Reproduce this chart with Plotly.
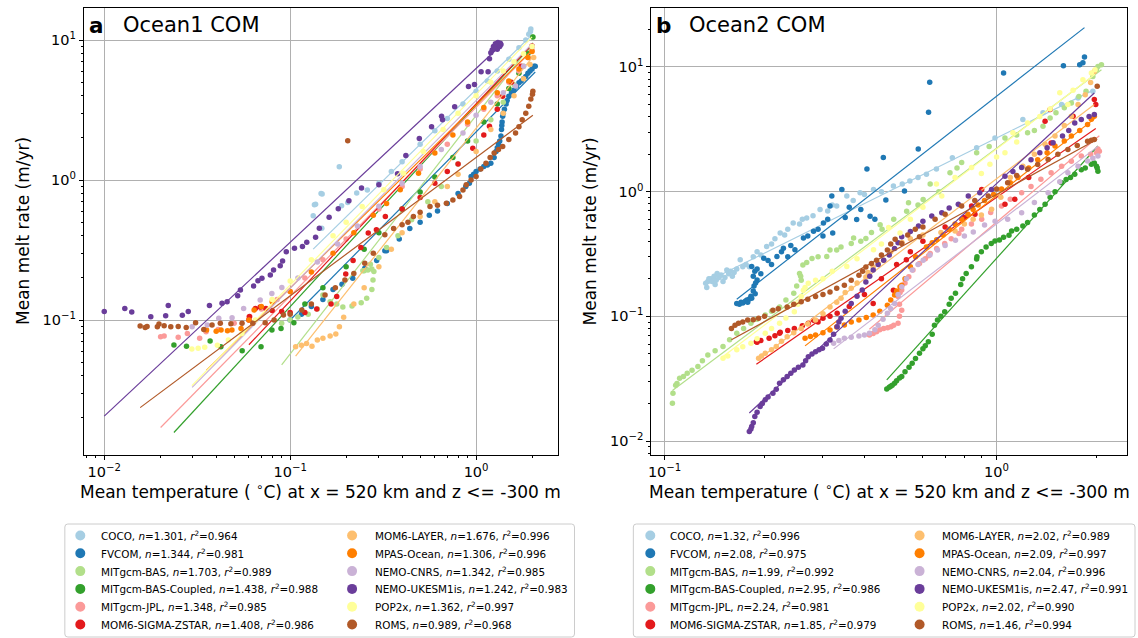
import numpy as np
import plotly.graph_objects as go

W, H = 1138, 638
FONT = "DejaVu Sans"

models = ["COCO", "FVCOM", "MITgcm-BAS", "MITgcm-BAS-Coupled", "MITgcm-JPL",
          "MOM6-SIGMA-ZSTAR", "MOM6-LAYER", "MPAS-Ocean", "NEMO-CNRS",
          "NEMO-UKESM1is", "POP2x", "ROMS"]
colors = ["#a6cee3", "#1f78b4", "#b2df8a", "#33a02c", "#fb9a99", "#e31a1c",
          "#fdbf6f", "#ff7f00", "#cab2d6", "#6a3d9a", "#ffff99", "#b15928"]

# Power-law fits  melt = coef * T**n  (coef = melt rate at T = 1 degC)
n_ocean1 = [1.301, 1.344, 1.703, 1.438, 1.348, 1.408, 1.676, 1.306, 1.342, 1.242, 1.362, 0.989]
r2_ocean1 = [0.964, 0.981, 0.989, 0.988, 0.985, 0.986, 0.996, 0.996, 0.985, 0.983, 0.997, 0.968]
coef_ocean1 = [4.43, 2.21, 2.89, 3.42, 3.31, 3.50, 2.34, 3.43, 3.70, 6.27, 4.10, 1.45]

n_ocean2 = [1.32, 2.08, 1.99, 2.95, 2.24, 1.85, 2.02, 2.09, 2.04, 2.47, 2.02, 1.46]
r2_ocean2 = [0.996, 0.975, 0.992, 0.986, 0.981, 0.979, 0.989, 0.997, 0.996, 0.991, 0.990, 0.994]
coef_ocean2 = [2.69, 5.82, 2.23, 0.292, 0.569, 0.90, 1.27, 0.93, 0.55, 1.16, 2.20, 0.95]

# ---- Ocean1 COM: (mean temperature degC, mean melt rate m/yr) ----
coco_o1 = [(0.133, 0.556), (0.135, 0.665), (0.137, 0.673), (0.1466, 0.80), (0.1486, 0.794),
           (0.148, 0.453), (0.1837, 1.246), (0.189, 0.655), (0.204, 0.692), (0.228, 0.807),
           (0.26, 0.85), (0.3, 0.95), (0.35, 1.15), (0.4, 1.35), (0.5, 1.8), (0.6, 2.25),
           (0.7, 2.75), (0.85, 3.5), (1.0, 4.3), (1.15, 5.1), (1.3, 6.0), (1.5, 7.3),
           (1.7, 8.8), (1.85, 10.0), (1.92, 11.0), (1.96, 11.5), (1.97, 12.0)]
fvcom_o1 = [(0.1, 0.1), (0.115, 0.11), (0.13, 0.125), (0.15, 0.14), (0.17, 0.165), (0.19, 0.18),
            (0.217, 0.199), (0.252, 0.234), (0.292, 0.266), (0.323, 0.313), (0.33, 0.313),
            (0.386, 0.379), (0.44, 0.45), (0.5, 0.5), (0.56, 0.56), (0.62, 0.6), (0.7, 0.68),
            (0.8, 0.8), (0.88, 0.9), (0.94, 1.06), (1.0, 1.15), (1.1, 1.25), (1.2, 1.32),
            (1.25, 1.45), (1.28, 1.6), (1.32, 1.8), (1.36, 2.06), (1.37, 2.3), (1.38, 2.6),
            (1.39, 2.86), (1.42, 3.2), (1.45, 3.5), (1.5, 3.97), (1.55, 4.2), (1.6, 4.4),
            (1.7, 4.95), (1.8, 5.3), (1.9, 5.8), (2.0, 6.2), (2.05, 6.5), (2.08, 6.5),
            (0.92, 0.95), (0.97, 1.1), (1.05, 1.2), (1.15, 1.28), (1.3, 1.7), (1.34, 1.9),
            (1.375, 2.45), (1.4, 3.0), (1.47, 3.7), (1.65, 4.7), (1.75, 5.1), (1.85, 5.5),
            (1.95, 6.0)]
mitgcm_bas_o1 = [(0.09, 0.095), (0.1, 0.1), (0.11, 0.105), (0.125, 0.11), (0.14, 0.12),
                 (0.15, 0.151), (0.164, 0.135), (0.178, 0.13), (0.192, 0.124), (0.215, 0.126),
                 (0.241, 0.133), (0.258, 0.143), (0.275, 0.165), (0.279, 0.193), (0.282, 0.222),
                 (0.275, 0.232), (0.262, 0.228), (0.25, 0.225), (0.246, 0.225), (0.27, 0.25),
                 (0.3, 0.28), (0.33, 0.33), (0.38, 0.4), (0.45, 0.52), (0.55, 0.7), (0.65, 0.9),
                 (0.8, 1.3), (1.0, 1.9), (1.2, 2.7), (1.4, 3.6), (1.6, 4.8), (1.8, 6.5),
                 (1.95, 8.5), (2.02, 10.5)]
mitgcm_bas_coupled_o1 = [(0.0237, 0.0662), (0.0277, 0.0651), (0.0371, 0.0708), (0.0424, 0.0645),
                         (0.0552, 0.0603), (0.0697, 0.0645), (0.0798, 0.0848), (0.0893, 0.0871),
                         (0.1047, 0.0957), (0.12, 0.13), (0.15, 0.17), (0.2, 0.24), (0.25, 0.32),
                         (0.3, 0.42), (0.4, 0.62), (0.5, 0.82), (0.6, 1.05), (0.75, 1.45),
                         (0.9, 1.9), (1.1, 2.6), (1.3, 3.5), (1.5, 4.5), (1.7, 5.8), (1.9, 8.0),
                         (2.02, 10.5)]
mitgcm_jpl_o1 = [(0.0201, 0.076), (0.021, 0.077), (0.025, 0.0752), (0.028, 0.08), (0.0326, 0.074),
                 (0.0353, 0.0825), (0.041, 0.0857), (0.05, 0.095), (0.06, 0.105), (0.07, 0.12),
                 (0.085, 0.14), (0.1, 0.16), (0.12, 0.2), (0.15, 0.27), (0.2, 0.38), (0.3, 0.62),
                 (0.4, 0.9), (0.5, 1.2), (0.7, 1.8), (0.9, 2.5), (1.1, 3.2), (1.3, 4.0),
                 (1.5, 5.0), (1.7, 6.0), (1.9, 7.5), (2.0, 8.5)]
mom6_sigma_zstar_o1 = [(0.06, 0.1), (0.0605, 0.106), (0.065, 0.121), (0.069, 0.124), (0.074, 0.121),
                       (0.08, 0.117), (0.09, 0.115), (0.1, 0.113), (0.12, 0.113), (0.139, 0.12),
                       (0.166, 0.13), (0.178, 0.147), (0.199, 0.213), (0.218, 0.266), (0.24, 0.33),
                       (0.263, 0.418), (0.291, 0.441), (0.325, 0.549), (0.4, 0.62), (0.5, 0.75),
                       (0.6, 0.95), (0.7, 1.15), (0.8, 1.3), (0.96, 1.69), (1.1, 2.1), (1.18, 2.42),
                       (1.3, 3.2), (1.39, 3.97), (1.55, 5.0), (1.75, 6.5), (2.0, 9.06)]
mom6_layer_o1 = [(0.107, 0.0645), (0.115, 0.066), (0.1225, 0.068), (0.131, 0.0651), (0.14, 0.0719),
                 (0.15, 0.074), (0.164, 0.0768), (0.176, 0.0794), (0.184, 0.0896), (0.194, 0.1045),
                 (0.22, 0.13), (0.25, 0.17), (0.3, 0.24), (0.35, 0.32), (0.4, 0.42), (0.5, 0.55),
                 (0.6, 0.7), (0.7, 0.9), (0.8, 1.1), (1.0, 1.6), (1.2, 2.3), (1.4, 3.0),
                 (1.6, 4.0), (1.8, 5.3), (1.95, 6.7), (2.04, 7.5)]
mpas_ocean_o1 = [(0.0355, 0.085), (0.04, 0.083), (0.0425, 0.085), (0.046, 0.084), (0.0486, 0.085),
                 (0.0544, 0.087), (0.06, 0.1), (0.064, 0.118), (0.07, 0.125), (0.08, 0.135),
                 (0.1, 0.16), (0.13, 0.22), (0.17, 0.3), (0.22, 0.42), (0.28, 0.56), (0.33, 0.68),
                 (0.391, 0.853), (0.49, 1.12), (0.6, 1.56), (0.75, 2.1), (0.9, 2.6), (1.1, 3.3),
                 (1.3, 4.2), (1.5, 5.1), (1.7, 6.2), (1.9, 7.5), (2.0, 8.3)]
nemo_cnrs_o1 = [(0.0297, 0.0896), (0.0358, 0.092), (0.0413, 0.1028), (0.0487, 0.104), (0.0562, 0.121),
                (0.069, 0.139), (0.0797, 0.155), (0.0902, 0.171), (0.11, 0.2), (0.14, 0.26),
                (0.18, 0.35), (0.23, 0.47), (0.3, 0.65), (0.4, 0.95), (0.5, 1.25), (0.65, 1.65),
                (0.85, 2.17), (1.0, 2.9), (1.2, 3.6), (1.4, 4.2), (1.63, 4.69), (1.8, 6.5), (2.0, 9.0)]
nemo_ukesm1is_o1 = [(0.01, 0.115), (0.0129, 0.121), (0.01406, 0.114), (0.0178, 0.1056), (0.0214, 0.1074),
                    (0.0221, 0.127), (0.0263, 0.108), (0.0283, 0.115), (0.0368, 0.127), (0.043, 0.132),
                    (0.0458, 0.135), (0.0522, 0.149), (0.054, 0.164), (0.0636, 0.175), (0.0671, 0.191),
                    (0.0705, 0.199), (0.0782, 0.21), (0.0814, 0.228), (0.0884, 0.244), (0.091, 0.264),
                    (0.0953, 0.307), (0.1055, 0.326), (0.1164, 0.335), (0.1228, 0.36), (0.137, 0.391),
                    (0.1435, 0.453), (0.162, 0.543), (0.1815, 0.623), (0.207, 0.711), (0.242, 0.877),
                    (0.3, 0.927), (0.378, 1.11), (0.419, 1.5), (0.495, 1.98), (0.576, 2.4),
                    (0.652, 2.86), (0.66, 2.7), (0.767, 3.34), (0.91, 4.66), (0.98, 4.82),
                    (1.064, 5.93), (1.16, 5.93), (1.18, 7.35), (1.2, 8.11), (1.25, 8.81),
                    (1.29, 9.3), (1.33, 9.17), (1.35, 9.5), (1.3, 8.6), (1.22, 8.5), (1.24, 9.0),
                    (1.27, 9.4), (1.31, 9.6), (1.34, 9.0), (1.36, 9.3), (1.26, 8.7)]
pop2x_o1 = [(0.0296, 0.062), (0.032, 0.063), (0.0347, 0.064), (0.0406, 0.066), (0.0465, 0.072),
            (0.055, 0.08), (0.065, 0.1), (0.08, 0.14), (0.1, 0.19), (0.13, 0.27), (0.17, 0.4),
            (0.2, 0.5), (0.244, 0.647), (0.319, 0.853), (0.407, 1.12), (0.52, 1.6), (0.665, 2.3),
            (0.8, 3.0), (1.0, 4.0), (1.2, 5.0), (1.4, 6.0), (1.6, 7.0), (1.8, 8.0), (2.0, 9.0)]
roms_o1 = [(0.0156, 0.0906), (0.0166, 0.0886), (0.0193, 0.0896), (0.0197, 0.0936), (0.0228, 0.0896),
           (0.0276, 0.0886), (0.031, 0.0957), (0.0343, 0.0857), (0.0421, 0.0947), (0.0551, 0.0947),
           (0.0734, 0.0957), (0.092, 0.1086), (0.1155, 0.118), (0.154, 0.151), (0.197, 0.193),
           (0.204, 1.91), (0.252, 0.255), (0.323, 0.407), (0.40, 0.48), (0.46, 0.55), (0.565, 0.647),
           (0.692, 0.684), (0.815, 0.764), (0.885, 0.927), (1.0, 1.06), (1.13, 1.32), (1.25, 1.56),
           (1.39, 1.74), (1.63, 2.17), (1.77, 2.70), (1.92, 3.37), (2.02, 4.31),
           (0.017, 0.09), (0.021, 0.091), (0.025, 0.09), (0.038, 0.092), (0.048, 0.094),
           (0.063, 0.095), (0.082, 0.1), (0.1, 0.11), (0.13, 0.13), (0.175, 0.17), (0.22, 0.215),
           (0.28, 0.3), (0.36, 0.45), (0.43, 0.5), (0.5, 0.59), (0.62, 0.66), (0.75, 0.72),
           (0.85, 0.85), (0.94, 1.0), (1.06, 1.2), (1.19, 1.45), (1.32, 1.65), (1.5, 1.95),
           (1.7, 2.4), (1.85, 3.0), (1.97, 3.8), (2.01, 4.1)]

# ---- Ocean2 COM ----
coco_o2 = [(0.133, 0.184), (0.135, 0.19), (0.138, 0.2), (0.142, 0.18), (0.144, 0.221), (0.15, 0.19),
           (0.154, 0.235), (0.16, 0.21), (0.169, 0.284), (0.18, 0.25), (0.203, 0.364), (0.223, 0.466),
           (0.244, 0.561), (0.268, 0.616), (0.294, 0.719), (0.33, 0.766), (0.354, 0.922), (0.388, 0.98),
           (0.426, 1.04), (0.489, 1.11), (0.548, 1.22), (0.615, 1.38), (0.659, 1.52), (0.736, 1.87),
           (0.871, 2.25), (0.989, 2.70), (1.2, 3.79), (1.38, 4.29), (1.57, 5.0), (1.76, 5.65), (1.95, 6.38),
           (0.134, 0.17), (0.136, 0.2), (0.139, 0.19), (0.141, 0.21), (0.143, 0.195), (0.146, 0.205),
           (0.148, 0.215), (0.152, 0.205), (0.156, 0.22), (0.158, 0.23), (0.162, 0.225), (0.165, 0.24),
           (0.172, 0.25), (0.176, 0.26), (0.185, 0.3), (0.19, 0.33), (0.195, 0.31), (0.21, 0.38),
           (0.215, 0.42), (0.23, 0.45), (0.235, 0.5), (0.255, 0.55), (0.26, 0.6), (0.28, 0.64),
           (0.31, 0.7), (0.32, 0.78), (0.37, 0.85), (0.4, 0.95), (0.45, 1.0), (0.52, 1.15), (0.58, 1.3)]
fvcom_o2 = [(0.165, 0.127), (0.17, 0.13), (0.177, 0.135), (0.183, 0.14), (0.1875, 0.152), (0.19, 0.196),
            (0.183, 0.251), (0.195, 0.22), (0.199, 0.292), (0.21, 0.26), (0.218, 0.302), (0.228, 0.352),
            (0.247, 0.342), (0.262, 0.425), (0.281, 0.481), (0.301, 0.561), (0.315, 0.766), (0.319, 0.922),
            (0.321, 0.466), (0.342, 1.04), (0.379, 0.597), (0.407, 1.52), (0.416, 0.636), (0.456, 1.88),
            (0.464, 0.857), (0.528, 1.01), (0.581, 2.2), (0.624, 4.33), (0.629, 7.53), (1.05, 8.95),
            (1.59, 10.25), (1.78, 10.4), (1.82, 10.8), (1.84, 12.0),
            (0.168, 0.125), (0.172, 0.128), (0.175, 0.132), (0.178, 0.13), (0.18, 0.138), (0.182, 0.145),
            (0.185, 0.16), (0.186, 0.175), (0.188, 0.185), (0.185, 0.21), (0.187, 0.23), (0.19, 0.24),
            (0.205, 0.28), (0.225, 0.33), (0.235, 0.3), (0.24, 0.37), (0.27, 0.44), (0.29, 0.5),
            (0.3, 0.44), (0.31, 0.6), (0.35, 0.62), (0.36, 0.75), (0.39, 0.72), (0.43, 0.6)]
mitgcm_bas_o2 = [(0.1056, 0.0201), (0.106, 0.0242), (0.108, 0.028), (0.111, 0.0319), (0.117, 0.035),
                 (0.126, 0.0396), (0.135, 0.049), (0.15, 0.0572), (0.165, 0.0731), (0.182, 0.0879),
                 (0.201, 0.1026), (0.222, 0.119), (0.245, 0.153), (0.258, 0.195), (0.255, 0.221),
                 (0.261, 0.258), (0.278, 0.291), (0.308, 0.302), (0.315, 0.34), (0.365, 0.384),
                 (0.371, 0.425), (0.404, 0.421), (0.446, 0.544), (0.452, 0.50), (0.536, 0.698),
                 (0.543, 0.816), (0.601, 0.867), (0.631, 1.15), (0.724, 1.42), (0.785, 1.71),
                 (0.871, 2.05), (1.06, 2.70), (1.24, 2.97), (1.38, 3.35), (1.51, 4.29), (1.68, 5.15),
                 (1.86, 6.38), (1.95, 8.4), (2.02, 10.1), (2.07, 10.4),
                 (0.109, 0.029), (0.114, 0.033), (0.121, 0.037), (0.13, 0.044), (0.142, 0.053),
                 (0.157, 0.065), (0.173, 0.08), (0.19, 0.095), (0.21, 0.11), (0.232, 0.135),
                 (0.25, 0.175), (0.257, 0.21), (0.268, 0.27), (0.29, 0.3), (0.33, 0.34), (0.34, 0.36),
                 (0.39, 0.4), (0.42, 0.47), (0.49, 0.6), (0.58, 0.78), (0.67, 1.0), (0.76, 1.55),
                 (0.95, 2.3), (1.15, 2.85), (1.3, 3.1), (1.45, 3.9), (1.6, 4.7), (1.77, 5.8), (2.0, 9.5)]
mitgcm_bas_coupled_o2 = [(0.467, 0.0261), (0.48, 0.0275), (0.493, 0.0291), (0.518, 0.0329), (0.557, 0.0421),
                         (0.586, 0.0506), (0.623, 0.0626), (0.664, 0.0935), (0.698, 0.109), (0.752, 0.153),
                         (0.81, 0.221), (0.871, 0.288), (0.873, 0.30), (0.964, 0.384), (0.989, 0.403),
                         (1.09, 0.448), (1.11, 0.484), (1.24, 0.565), (1.40, 0.792), (1.57, 1.18),
                         (1.72, 1.38), (1.93, 1.66), (2.0, 1.6), (2.02, 1.46),
                         (0.475, 0.027), (0.485, 0.028), (0.5, 0.0305), (0.51, 0.032), (0.53, 0.036),
                         (0.545, 0.039), (0.57, 0.046), (0.6, 0.055), (0.61, 0.058), (0.64, 0.072),
                         (0.65, 0.085), (0.68, 0.1), (0.72, 0.125), (0.73, 0.14), (0.78, 0.18),
                         (0.79, 0.2), (0.84, 0.25), (0.9, 0.33), (0.93, 0.36), (1.02, 0.41), (1.05, 0.43),
                         (1.15, 0.5), (1.2, 0.53), (1.3, 0.65), (1.35, 0.72), (1.45, 0.9), (1.5, 1.0),
                         (1.62, 1.25), (1.67, 1.3), (1.8, 1.5), (1.85, 1.55), (1.97, 1.7), (2.01, 1.55)]
mitgcm_jpl_o2 = [(0.414, 0.071), (0.416, 0.0724), (0.435, 0.0754), (0.457, 0.080), (0.481, 0.0826),
                 (0.505, 0.0879), (0.518, 0.112), (0.505, 0.144), (0.518, 0.163), (0.544, 0.208),
                 (0.586, 0.265), (0.624, 0.306), (0.631, 0.319), (0.698, 0.384), (0.77, 0.461),
                 (0.785, 0.50), (0.902, 0.60), (1.035, 0.768), (1.19, 0.98), (1.36, 1.26),
                 (1.57, 1.60), (1.80, 1.93), (2.04, 2.11),
                 (0.425, 0.073), (0.445, 0.078), (0.47, 0.081), (0.49, 0.085), (0.51, 0.1),
                 (0.51, 0.125), (0.512, 0.155), (0.53, 0.185), (0.56, 0.235), (0.61, 0.29),
                 (0.66, 0.35), (0.73, 0.42), (0.84, 0.55), (0.96, 0.68), (1.1, 0.87), (1.27, 1.1),
                 (1.46, 1.42), (1.68, 1.75), (1.92, 2.0), (2.02, 2.2), (2.0, 2.05)]
mom6_sigma_zstar_o2 = [(0.189, 0.0626), (0.19, 0.062), (0.2065, 0.0667), (0.222, 0.0731), (0.223, 0.0747),
                       (0.246, 0.080), (0.271, 0.0879), (0.281, 0.093), (0.300, 0.0964), (0.331, 0.1057),
                       (0.36, 0.12), (0.4, 0.15), (0.425, 0.127), (0.45, 0.2), (0.489, 0.162), (0.5, 0.26),
                       (0.535, 0.284), (0.55, 0.33), (0.6, 0.4), (0.7, 0.52), (0.8, 0.62), (0.841, 0.768),
                       (0.861, 0.659), (0.902, 1.04), (1.06, 0.792), (1.135, 0.869), (1.25, 1.3),
                       (1.40, 3.67), (1.45, 4.56), (1.46, 2.46), (1.7, 4.03), (1.97, 5.48), (1.99, 5.0),
                       (0.195, 0.064), (0.215, 0.07), (0.235, 0.077), (0.26, 0.084), (0.29, 0.09),
                       (0.315, 0.1)]
mom6_layer_o2 = [(0.192, 0.0461), (0.201, 0.0506), (0.217, 0.0572), (0.234, 0.0687), (0.258, 0.080),
                 (0.285, 0.0935), (0.315, 0.119), (0.34, 0.14), (0.365, 0.168), (0.404, 0.207),
                 (0.425, 0.249), (0.457, 0.282), (0.519, 0.391), (0.6, 0.45), (0.75, 0.484),
                 (0.85, 0.6), (0.966, 0.722), (1.1, 1.3), (1.3, 2.0), (1.50, 2.79), (1.68, 4.03),
                 (1.85, 6.0), (1.97, 9.2),
                 (0.196, 0.048), (0.21, 0.054), (0.225, 0.063), (0.245, 0.074), (0.27, 0.087),
                 (0.3, 0.105), (0.33, 0.13), (0.35, 0.155), (0.38, 0.185), (0.41, 0.225), (0.44, 0.265),
                 (0.48, 0.33), (0.55, 0.42), (0.68, 0.47), (0.8, 0.55), (0.9, 0.65), (1.03, 0.9),
                 (1.2, 1.6), (1.4, 2.4), (1.6, 3.4), (1.76, 5.0), (1.92, 7.5)]
mpas_ocean_o2 = [(0.265, 0.0667), (0.285, 0.071), (0.315, 0.0778), (0.348, 0.0853), (0.385, 0.0935),
                 (0.425, 0.1026), (0.469, 0.123), (0.493, 0.148), (0.512, 0.173), (0.518, 0.178),
                 (0.55, 0.25), (0.615, 0.36), (0.66, 0.412), (0.72, 0.5), (0.785, 0.6), (0.85, 0.72),
                 (0.92, 0.85), (1.035, 1.05), (1.16, 1.3), (1.33, 1.8), (1.50, 2.32), (1.68, 2.79),
                 (1.88, 3.46), (1.97, 4.03),
                 (0.275, 0.069), (0.3, 0.074), (0.33, 0.082), (0.365, 0.09), (0.405, 0.098),
                 (0.445, 0.11), (0.48, 0.135), (0.5, 0.16), (0.53, 0.2), (0.57, 0.3), (0.64, 0.39),
                 (0.69, 0.45), (0.75, 0.55), (0.82, 0.66), (0.88, 0.78), (0.98, 0.95), (1.1, 1.18),
                 (1.25, 1.55), (1.42, 2.05), (1.6, 2.55), (1.78, 3.1), (1.93, 3.8)]
nemo_cnrs_o2 = [(0.323, 0.0608), (0.348, 0.0667), (0.385, 0.0696), (0.414, 0.0731), (0.44, 0.085),
                (0.469, 0.1057), (0.493, 0.127), (0.518, 0.173), (0.557, 0.235), (0.601, 0.282),
                (0.664, 0.340), (0.752, 0.408), (0.851, 0.475), (0.99, 0.58), (1.19, 0.679),
                (1.43, 0.98), (1.64, 1.42), (1.88, 1.76), (2.02, 1.93),
                (0.335, 0.064), (0.365, 0.068), (0.4, 0.071), (0.43, 0.078), (0.455, 0.095),
                (0.48, 0.115), (0.505, 0.15), (0.535, 0.2), (0.58, 0.26), (0.63, 0.31), (0.7, 0.37),
                (0.8, 0.44), (0.92, 0.54), (1.08, 0.6), (1.3, 0.82), (1.55, 1.2), (1.76, 1.6), (1.95, 1.85)]
nemo_ukesm1is_o2 = [(0.180, 0.0119), (0.183, 0.0131), (0.187, 0.0157), (0.194, 0.0189), (0.201, 0.0214),
                    (0.212, 0.0242), (0.222, 0.0291), (0.234, 0.0329), (0.246, 0.0372), (0.261, 0.0408),
                    (0.271, 0.0475), (0.285, 0.0521), (0.299, 0.0555), (0.315, 0.0647), (0.331, 0.0826),
                    (0.340, 0.0964), (0.365, 0.127), (0.394, 0.163), (0.404, 0.189), (0.425, 0.235),
                    (0.457, 0.282), (0.493, 0.350), (0.518, 0.434), (0.582, 0.531), (0.638, 0.638),
                    (0.684, 0.679), (0.767, 0.792), (0.822, 0.922), (0.966, 1.04), (1.06, 1.33),
                    (1.19, 1.56), (1.35, 2.05), (1.48, 2.47), (1.58, 2.79), (1.72, 3.56), (1.80, 3.79),
                    (1.97, 4.16),
                    (0.182, 0.0125), (0.185, 0.014), (0.19, 0.017), (0.197, 0.02), (0.205, 0.0225),
                    (0.217, 0.026), (0.228, 0.031), (0.24, 0.035), (0.253, 0.039), (0.266, 0.044),
                    (0.278, 0.05), (0.292, 0.054), (0.307, 0.06), (0.323, 0.072), (0.335, 0.09),
                    (0.35, 0.11), (0.38, 0.145), (0.415, 0.21), (0.44, 0.26), (0.475, 0.31),
                    (0.505, 0.39), (0.55, 0.48), (0.6, 0.58), (0.72, 0.74), (0.89, 0.98), (1.12, 1.45),
                    (1.27, 1.8), (1.42, 2.25), (1.65, 3.1), (1.9, 4.0)]
pop2x_o2 = [(0.150, 0.0461), (0.165, 0.0539), (0.182, 0.0608), (0.201, 0.0731), (0.222, 0.0879),
            (0.246, 0.109), (0.258, 0.144), (0.262, 0.162), (0.271, 0.184), (0.30, 0.2), (0.354, 0.251),
            (0.426, 0.342), (0.473, 0.515), (0.512, 0.466), (0.659, 1.15), (0.684, 0.922), (0.841, 1.56),
            (0.955, 1.66), (1.06, 2.05), (1.12, 2.97), (1.24, 3.56), (1.55, 6.2), (1.64, 5.0),
            (1.82, 7.9), (1.93, 8.95),
            (0.155, 0.048), (0.172, 0.057), (0.19, 0.066), (0.21, 0.08), (0.232, 0.097),
            (0.252, 0.125), (0.265, 0.17), (0.285, 0.195), (0.32, 0.23), (0.38, 0.29), (0.45, 0.38),
            (0.55, 0.6), (0.6, 0.75), (0.75, 1.3), (0.9, 1.4), (1.0, 1.9), (1.15, 2.5), (1.35, 4.0),
            (1.45, 4.6), (1.7, 6.5), (1.98, 9.5)]
roms_o2 = [(0.159, 0.080), (0.167, 0.0879), (0.178, 0.0935), (0.192, 0.0964), (0.212, 0.112),
           (0.234, 0.119), (0.258, 0.131), (0.285, 0.144), (0.315, 0.157), (0.348, 0.178), (0.385, 0.214),
           (0.404, 0.249), (0.435, 0.282), (0.469, 0.340), (0.495, 0.416), (0.518, 0.384), (0.569, 0.50),
           (0.586, 0.434), (0.653, 0.60), (0.785, 0.768), (0.944, 0.922), (1.08, 1.18), (1.24, 1.51),
           (1.43, 1.81), (1.64, 2.18), (1.88, 2.54), (1.97, 2.62), (2.01, 7.0),
           (0.163, 0.085), (0.172, 0.09), (0.185, 0.094), (0.2, 0.1), (0.22, 0.115), (0.245, 0.125),
           (0.27, 0.137), (0.3, 0.15), (0.33, 0.168), (0.365, 0.195), (0.395, 0.23), (0.42, 0.265),
           (0.45, 0.31), (0.48, 0.38), (0.54, 0.45), (0.6, 0.52), (0.7, 0.66), (0.86, 0.85),
           (1.0, 1.05), (1.15, 1.35), (1.33, 1.65), (1.53, 2.0), (1.75, 2.35), (1.93, 2.58)]

ocean1_series = [coco_o1, fvcom_o1, mitgcm_bas_o1, mitgcm_bas_coupled_o1, mitgcm_jpl_o1,
                 mom6_sigma_zstar_o1, mom6_layer_o1, mpas_ocean_o1, nemo_cnrs_o1,
                 nemo_ukesm1is_o1, pop2x_o1, roms_o1]
ocean2_series = [coco_o2, fvcom_o2, mitgcm_bas_o2, mitgcm_bas_coupled_o2, mitgcm_jpl_o2,
                 mom6_sigma_zstar_o2, mom6_layer_o2, mpas_ocean_o2, nemo_cnrs_o2,
                 nemo_ukesm1is_o2, pop2x_o2, roms_o2]


def px(x):
    return x / W


def py(y):
    return 1 - y / H


panels = [
    dict(xa="x", ya="y", series=ocean1_series, n=n_ocean1, r2=r2_ocean1, coef=coef_ocean1,
         ndig=3, label="a", title="Ocean1 COM"),
    dict(xa="x2", ya="y2", series=ocean2_series, n=n_ocean2, r2=r2_ocean2, coef=coef_ocean2,
         ndig=2, label="b", title="Ocean2 COM"),
]

fig = go.Figure()
for p in panels:
    for i, name in enumerate(models):
        pts = np.array(p["series"][i], dtype=float)
        t, m = pts[:, 0], pts[:, 1]
        fig.add_trace(go.Scatter(
            x=t, y=m, mode="markers", xaxis=p["xa"], yaxis=p["ya"],
            marker=dict(color=colors[i], size=5.5, line=dict(width=0)),
            showlegend=False, hoverinfo="skip", name=name))
        tf = np.array([t.min(), t.max()])
        fig.add_trace(go.Scatter(
            x=tf, y=p["coef"][i] * tf ** p["n"][i], mode="lines",
            xaxis=p["xa"], yaxis=p["ya"],
            line=dict(color=colors[i], width=1.2),
            showlegend=False, hoverinfo="skip", name=name + " fit"))


def sup_label(e):
    s = str(e).replace("-", "\u2212")
    return f"10<sup>{s}</sup>"


def log_axis(lo, hi):
    """Log axis over [lo, hi] (in decades) with labelled decades and minor ticks."""
    decades = [e for e in range(-3, 3) if lo <= e <= hi]
    minor_vals = [k * 10.0 ** e for e in range(-3, 3) for k in range(2, 10)
                  if lo <= np.log10(k * 10.0 ** e) <= hi]
    return dict(
        type="log", range=[lo, hi], showline=True, linecolor="black", linewidth=1, mirror=True,
        ticks="outside", ticklen=4, tickwidth=1, tickcolor="black",
        showgrid=True, gridcolor="#b0b0b0", gridwidth=1, zeroline=False,
        tickmode="array", tickvals=[10.0 ** e for e in decades],
        ticktext=[sup_label(e) for e in decades],
        tickfont=dict(family=FONT, size=14.5, color="black"),
        minor=dict(tickmode="array", tickvals=minor_vals, ticks="outside", ticklen=2,
                   tickwidth=0.8, tickcolor="black", showgrid=False),
    )


ydom = [py(455), py(8)]
fig.update_layout(
    width=W, height=H, margin=dict(l=0, r=0, t=0, b=0),
    paper_bgcolor="white", plot_bgcolor="white", showlegend=False,
    font=dict(family=FONT, color="black"),
    xaxis=dict(domain=[px(81), px(556)], anchor="y", **log_axis(-2.11, 0.438)),
    yaxis=dict(domain=ydom, anchor="x", **log_axis(-1.964, 1.229)),
    xaxis2=dict(domain=[px(650), px(1127)], anchor="y2", **log_axis(-1.04, 0.393)),
    yaxis2=dict(domain=ydom, anchor="x2", **log_axis(-2.112, 1.473)),
)

annotations = []
shapes = []

# Panel letters and titles
for lx, tx, p in [(84, 118, panels[0]), (653, 686, panels[1])]:
    annotations.append(dict(x=px(lx), y=py(25), xref="paper", yref="paper", xanchor="left",
                            yanchor="middle", showarrow=False, text=f"<b>{p['label']}</b>",
                            font=dict(family=FONT, size=21.5, color="black")))
    annotations.append(dict(x=px(tx), y=py(25), xref="paper", yref="paper", xanchor="left",
                            yanchor="middle", showarrow=False, text=p["title"],
                            font=dict(family=FONT, size=21, color="black")))

# Axis titles
xtitle = "Mean temperature ( <sup>\u2218</sup>C) at x = 520 km and z <= -300 m"
for cx in [(81 + 556) / 2, (650 + 1127) / 2]:
    annotations.append(dict(x=px(cx), y=py(491), xref="paper", yref="paper", xanchor="center",
                            yanchor="middle", showarrow=False, text=xtitle,
                            font=dict(family=FONT, size=17, color="black")))
for cx in [20, 589]:
    annotations.append(dict(x=px(cx), y=py(231), xref="paper", yref="paper", xanchor="center",
                            yanchor="middle", showarrow=False, text="Mean melt rate (m/yr)",
                            textangle=-90, font=dict(family=FONT, size=17, color="black")))


def rounded_box(x0, y0, x1, y1, r=3):
    rx, ry = r / W, r / H
    X0, X1, Y0, Y1 = px(x0), px(x1), py(y1), py(y0)
    return (f"M {X0 + rx},{Y0} L {X1 - rx},{Y0} Q {X1},{Y0} {X1},{Y0 + ry} "
            f"L {X1},{Y1 - ry} Q {X1},{Y1} {X1 - rx},{Y1} L {X0 + rx},{Y1} "
            f"Q {X0},{Y1} {X0},{Y1 - ry} L {X0},{Y0 + ry} Q {X0},{Y0} {X0 + rx},{Y0} Z")


# Legends (two columns of six entries per panel)
legend_geom = [
    dict(box=(62, 524, 573, 637), cols=[(77.5, 96), (350, 371)]),
    dict(box=(632, 524, 1135, 637), cols=[(649, 667), (919, 939)]),
]
for p, g in zip(panels, legend_geom):
    shapes.append(dict(type="path", path=rounded_box(*g["box"]), xref="paper", yref="paper",
                       line=dict(color="#cccccc", width=1), fillcolor="white", layer="above"))
    for i, name in enumerate(models):
        col, row = divmod(i, 6)
        mx, tx = g["cols"][col]
        cy = 535.5 + row * 17.8
        shapes.append(dict(type="circle", xref="paper", yref="paper",
                           xsizemode="pixel", ysizemode="pixel",
                           xanchor=px(mx), yanchor=py(cy), x0=-5, x1=5, y0=-5, y1=5,
                           fillcolor=colors[i], line=dict(width=0), layer="above"))
        nval = f"{p['n'][i]:.{p['ndig']}f}"
        label = f"{name}, <i>n</i>={nval}, <i>r</i><sup>2</sup>={p['r2'][i]:.3f}"
        annotations.append(dict(x=px(tx), y=py(cy), xref="paper", yref="paper",
                                xanchor="left", yanchor="middle", showarrow=False,
                                text=label, font=dict(family=FONT, size=10.4, color="black")))

fig.update_layout(annotations=annotations, shapes=shapes)
fig.write_html("out.html")
